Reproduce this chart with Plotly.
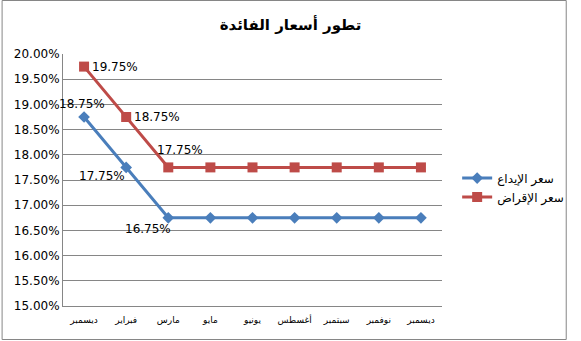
import plotly.graph_objects as go

months = ["ديسمبر", "فبراير", "مارس", "مايو", "يونيو", "أغسطس", "سبتمبر", "نوفمبر", "ديسمبر"]
deposit = [18.75, 17.75, 16.75, 16.75, 16.75, 16.75, 16.75, 16.75, 16.75]
lending = [19.75, 18.75, 17.75, 17.75, 17.75, 17.75, 17.75, 17.75, 17.75]
series_names = ["سعر الإيداع", "سعر الإقراض"]
title = "تطور أسعار الفائدة"
yticks = [15 + 0.5 * i for i in range(11)]

x = list(range(len(months)))
blue = "#4A7EBB"
red = "#BE4B48"
grey = "#868686"
font = "DejaVu Sans"

fig = go.Figure()
fig.add_trace(go.Scatter(x=x, y=deposit, name=series_names[0], mode="lines+markers",
                         line=dict(color=blue, width=3),
                         marker=dict(symbol="diamond", size=9, color=blue)))
fig.add_trace(go.Scatter(x=x, y=lending, name=series_names[1], mode="lines+markers",
                         line=dict(color=red, width=3),
                         marker=dict(symbol="square", size=10, color=red)))

# data labels on first three points
dep_off = [(-2, 13), (-24, -9), (-20, -11)]
len_off = [(31, 0), (31, 0), (12, 17)]
for i, (dx, dy) in enumerate(dep_off):
    fig.add_annotation(x=x[i], y=deposit[i], text=f"{deposit[i]:.2f}%", showarrow=False,
                       xshift=dx, yshift=dy, font=dict(family=font, size=12, color="#000"))
for i, (dx, dy) in enumerate(len_off):
    fig.add_annotation(x=x[i], y=lending[i], text=f"{lending[i]:.2f}%", showarrow=False,
                       xshift=dx, yshift=dy, font=dict(family=font, size=12, color="#000"))

W, H = 581, 341
L, R, T, B = 63, 129, 54, 35
pw, ph = W - L - R, H - T - B

fig.add_shape(type="rect", xref="paper", yref="paper",
              x0=(0.5 - L) / pw, x1=(W - 1.5 - L) / pw,
              y0=-(B - 1.5) / ph,
              y1=(ph + T - 0.5) / ph,
              line=dict(color=grey, width=1))

fig.update_layout(
    width=W, height=H,
    margin=dict(l=L, r=R, t=T, b=B),
    paper_bgcolor="white", plot_bgcolor="white",
    title=dict(text=f"<b>{title}</b>", x=0.5, xanchor="center", y=1 - 25 / H, yanchor="middle",
               font=dict(family=font, size=15, color="#000")),
    showlegend=True,
    legend=dict(x=1.04, y=0.47, xanchor="left", yanchor="middle",
                font=dict(family=font, size=12, color="#000"),
                bgcolor="rgba(0,0,0,0)", tracegroupgap=6),
    xaxis=dict(range=[-0.5, len(months) - 0.5], tickmode="array", tickvals=x, ticktext=months,
               showgrid=False, showline=True, linecolor=grey, linewidth=1, zeroline=False,
               ticks="outside", ticklen=5, tickcolor="rgba(0,0,0,0)",
               tickfont=dict(family=font, size=9, color="#000")),
    yaxis=dict(range=[15, 20], tickmode="array", tickvals=yticks,
               ticktext=[f"{v:.2f}%" for v in yticks],
               showgrid=True, gridcolor=grey, gridwidth=1, showline=True, linecolor=grey,
               linewidth=1, zeroline=False, ticks="",
               tickfont=dict(family=font, size=12, color="#000")),
)

fig.write_html("out.html", config={"responsive": False},
               post_script="document.body.style.margin='0';document.body.style.overflow='hidden';")
